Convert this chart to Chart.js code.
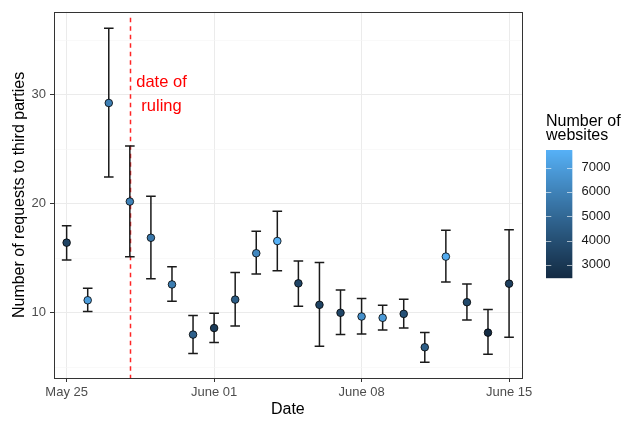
<!DOCTYPE html>
<html>
<head>
<meta charset="utf-8">
<script src="https://cdn.jsdelivr.net/npm/chart.js@4"></script>
<style>
  body { margin: 0; background: #fff; }
</style>
</head>
<body>
<canvas id="chart" width="625" height="421"></canvas>
<script>
// daily averages of third-party requests, with error bar bounds
const dates = ["2018-05-25", "2018-05-26", "2018-05-27", "2018-05-28", "2018-05-29", "2018-05-30",
  "2018-05-31", "2018-06-01", "2018-06-02", "2018-06-03", "2018-06-04", "2018-06-05", "2018-06-06",
  "2018-06-07", "2018-06-08", "2018-06-09", "2018-06-10", "2018-06-11", "2018-06-12", "2018-06-13",
  "2018-06-14", "2018-06-15"];
const means = [16.43, 11.15, 29.24, 20.2, 16.88, 12.6, 8.0, 8.6, 11.21, 15.46, 16.58, 12.7, 10.73,
  10.0, 9.66, 9.54, 9.9, 6.84, 15.15, 10.97, 8.18, 12.67];
const lower = [14.85, 10.12, 22.44, 15.13, 13.12, 11.06, 6.27, 7.27, 8.78, 13.55, 13.85, 10.6, 6.93,
  8.0, 8.05, 8.42, 8.6, 5.47, 12.83, 9.33, 6.2, 7.75];
const upper = [17.98, 12.24, 36.1, 25.3, 20.68, 14.22, 9.75, 9.96, 13.7, 17.47, 19.32, 14.76, 14.6,
  12.1, 11.3, 10.69, 11.24, 8.2, 17.56, 12.64, 10.3, 17.61];
const websites = [3500, 7000, 5900, 6000, 5600, 5800, 4700, 3200, 4600, 6200, 7720, 3600, 3500,
  3600, 6500, 6900, 4100, 4600, 7500, 3700, 2460, 3300];

const rulingDate = "2018-05-28";
const xTickDates = ["2018-05-25", "2018-06-01", "2018-06-08", "2018-06-15"];
const xTickLabels = ["May 25", "June 01", "June 08", "June 15"];
const yTicks = [5, 10, 15, 20, 25, 30, 35];
const legendTicks = [3000, 4000, 5000, 6000, 7000];

const FONT = '"Liberation Sans", Arial, sans-serif';
const DAY = 86400000;
const t0 = Date.parse(dates[0]);
const dayOf = d => (Date.parse(d) - t0) / DAY;

// gradient between two colours in Lab space
function toLab(hex) {
  const c = [1, 3, 5].map(i => parseInt(hex.substr(i, 2), 16) / 255)
    .map(v => v <= 0.04045 ? v / 12.92 : Math.pow((v + 0.055) / 1.055, 2.4));
  const X = (0.4124 * c[0] + 0.3576 * c[1] + 0.1805 * c[2]) / 0.95047;
  const Y = 0.2126 * c[0] + 0.7152 * c[1] + 0.0722 * c[2];
  const Z = (0.0193 * c[0] + 0.1192 * c[1] + 0.9505 * c[2]) / 1.08883;
  const f = t => t > 0.008856 ? Math.cbrt(t) : 7.787 * t + 16 / 116;
  return [116 * f(Y) - 16, 500 * (f(X) - f(Y)), 200 * (f(Y) - f(Z))];
}
function fromLab(L, a, b) {
  const fy = (L + 16) / 116, fx = fy + a / 500, fz = fy - b / 200;
  const inv = t => t * t * t > 0.008856 ? t * t * t : (t - 16 / 116) / 7.787;
  const X = inv(fx) * 0.95047, Y = inv(fy), Z = inv(fz) * 1.08883;
  const lin = [3.2406 * X - 1.5372 * Y - 0.4986 * Z,
               -0.9689 * X + 1.8758 * Y + 0.0415 * Z,
               0.0557 * X - 0.2040 * Y + 1.0570 * Z];
  const s = lin.map(v => v <= 0.0031308 ? 12.92 * v : 1.055 * Math.pow(v, 1 / 2.4) - 0.055)
    .map(v => Math.round(Math.min(1, Math.max(0, v)) * 255));
  return `rgb(${s[0]},${s[1]},${s[2]})`;
}
const lowLab = toLab("#132B43"), highLab = toLab("#56B1F7");
const wMin = Math.min(...websites), wMax = Math.max(...websites);
function colorFor(v) {
  const t = (v - wMin) / (wMax - wMin);
  return fromLab(...lowLab.map((l, i) => l + (highLab[i] - l) * t));
}

const points = dates.map((d, i) => ({ x: dayOf(d), y: means[i] }));

const decorations = {
  id: 'decorations',
  beforeDatasetsDraw(chart) {
    const { ctx, chartArea: a, scales: { x, y } } = chart;
    ctx.save();
    // dashed line at the ruling date
    const rx = Math.round(x.getPixelForValue(dayOf(rulingDate))) + 0.5;
    ctx.strokeStyle = 'rgba(255,0,0,0.85)';
    ctx.lineWidth = 1.5;
    ctx.setLineDash([4.5, 4]);
    ctx.lineDashOffset = -2;
    ctx.beginPath();
    ctx.moveTo(rx, a.top + 4);
    ctx.lineTo(rx, a.bottom);
    ctx.stroke();
    ctx.setLineDash([]);

    // error bars
    ctx.strokeStyle = '#1a1a1a';
    ctx.lineWidth = 1.5;
    points.forEach((p, i) => {
      const px = x.getPixelForValue(p.x);
      const yl = y.getPixelForValue(lower[i]);
      const yu = y.getPixelForValue(upper[i]);
      ctx.beginPath();
      ctx.moveTo(px, yl); ctx.lineTo(px, yu);
      ctx.moveTo(px - 4.8, yl); ctx.lineTo(px + 4.8, yl);
      ctx.moveTo(px - 4.8, yu); ctx.lineTo(px + 4.8, yu);
      ctx.stroke();
    });

    // annotation text
    ctx.fillStyle = '#FF0000';
    ctx.font = `16.5px ${FONT}`;
    ctx.textAlign = 'center';
    ctx.textBaseline = 'middle';
    ctx.fillText('date of', 161.5, 82);
    ctx.fillText('ruling', 161.5, 106.5);
    ctx.restore();
  },
  afterDraw(chart) {
    const { ctx, chartArea: a } = chart;
    ctx.save();
    // panel border
    ctx.strokeStyle = '#333333';
    ctx.lineWidth = 1;
    ctx.strokeRect(Math.round(a.left) + 0.5, Math.round(a.top) + 0.5,
      Math.round(a.right - a.left), Math.round(a.bottom - a.top));

    // axis titles
    ctx.fillStyle = '#000';
    ctx.font = `16px ${FONT}`;
    ctx.textAlign = 'center';
    ctx.textBaseline = 'middle';
    ctx.fillText('Date', (a.left + a.right) / 2, 410);
    ctx.translate(20, (a.top + a.bottom) / 2);
    ctx.rotate(-Math.PI / 2);
    ctx.fillText('Number of requests to third parties', 0, 0);
    ctx.setTransform(1, 0, 0, 1, 0, 0);

    // colour bar legend
    const bx = 546, bw = 26.3, by = 150, bh = 128;
    ctx.textAlign = 'left';
    ctx.font = `16px ${FONT}`;
    ctx.fillText('Number of', bx, 122);
    ctx.fillText('websites', bx, 136);
    const lo = 2460, hi = 7720;
    const valY = v => by + bh - (v - lo) / (hi - lo) * bh;
    for (let k = 0; k < bh; k++) {
      ctx.fillStyle = colorFor(lo + (hi - lo) * (1 - (k + 0.5) / bh));
      ctx.fillRect(bx, by + k, bw, 1.2);
    }
    ctx.strokeStyle = 'rgba(255,255,255,0.6)';
    ctx.lineWidth = 1;
    ctx.fillStyle = '#1a1a1a';
    ctx.font = `13px ${FONT}`;
    legendTicks.forEach(v => {
      const ty = Math.round(valY(v)) + 0.5;
      ctx.beginPath();
      ctx.moveTo(bx, ty); ctx.lineTo(bx + 5.3, ty);
      ctx.moveTo(bx + bw - 5.3, ty); ctx.lineTo(bx + bw, ty);
      ctx.stroke();
      ctx.fillText(String(v), 581.5, valY(v));
    });
    ctx.restore();
  }
};

new Chart(document.getElementById('chart'), {
  type: 'scatter',
  data: {
    datasets: [{
      data: points,
      pointBackgroundColor: websites.map(colorFor),
      pointBorderColor: '#000',
      pointBorderWidth: 0.8,
      pointRadius: 3.8,
      pointHoverRadius: 3.8
    }]
  },
  options: {
    responsive: false,
    animation: false,
    events: [],
    layout: { padding: { left: 0, top: 9, right: 103.3, bottom: 0 } },
    plugins: { legend: { display: false }, tooltip: { enabled: false } },
    scales: {
      x: {
        type: 'linear',
        min: -0.6,
        max: 21.6,
        afterBuildTicks: s => { s.ticks = xTickDates.map(d => ({ value: dayOf(d) })); },
        afterFit: s => { s.height = 43; },
        border: { display: false },
        grid: { color: '#EBEBEB', lineWidth: 1, tickColor: '#333333', tickLength: 4 },
        ticks: {
          padding: 3,
          color: '#4D4D4D',
          font: { family: FONT, size: 13 },
          maxRotation: 0,
          callback: (v, i) => xTickLabels[i]
        }
      },
      y: {
        min: 4.02,
        max: 37.6,
        afterBuildTicks: s => { s.ticks = yTicks.map(v => ({ value: v })); },
        afterFit: s => { s.width = 54; },
        border: { display: false },
        grid: {
          color: c => c.tick && c.tick.value % 10 === 0 ? '#EBEBEB' : '#F5F5F5',
          lineWidth: c => c.tick && c.tick.value % 10 === 0 ? 1 : 0.6,
          tickColor: c => c.tick && c.tick.value % 10 === 0 ? '#333333' : 'rgba(0,0,0,0)',
          tickLength: 4
        },
        ticks: {
          padding: 4,
          color: '#4D4D4D',
          font: { family: FONT, size: 13 },
          callback: v => v % 10 === 0 ? String(v) : ''
        }
      }
    }
  },
  plugins: [decorations]
});
</script>
</body>
</html>
